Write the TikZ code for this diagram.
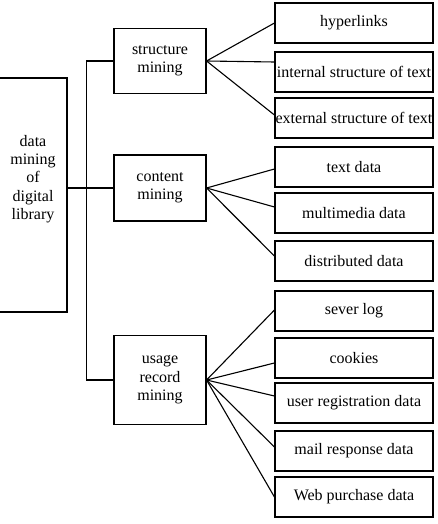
\documentclass[tikz,border=0pt]{standalone}
\usepackage{fontspec}
\setmainfont{Liberation Serif}
\usepackage{tikz}
\begin{document}
\begin{tikzpicture}[x=1pt,y=-1pt,line width=1.1pt,
  every node/.style={font=\fontsize{16}{18.4}\selectfont,align=center,inner sep=0pt},
  midbox/.style={draw,minimum width=92pt},
  leafbox/.style={draw,minimum width=158pt,minimum height=40pt}]
\useasboundingbox (0,0) rectangle (438,524);
\node[draw,minimum width=69pt,minimum height=234pt](lib)at(32.5,195){};
\node(libtext)at(33,179){data\\mining\\of\\digital\\library};
\node[midbox,minimum height=65pt](struct)at(160,61){structure\\mining};
\node[midbox,minimum height=66pt](content)at(160,188){content\\mining};
\node[midbox,minimum height=89pt](usage)at(160,380){usage\\record\\mining};
\node[leafbox](hyper)at(354,23){hyperlinks};
\node[leafbox](internal)at(354,72){internal structure of text};
\node[leafbox](external)at(354,118){external structure of text};
\node[leafbox](textdata)at(354,167){text data};
\node[leafbox](multi)at(354,213){multimedia data};
\node[leafbox](distrib)at(354,261){distributed data};
\node[leafbox](sever)at(354,311){sever log};
\node[leafbox](cookies)at(354,358){cookies};
\node[leafbox](userreg)at(354,403){user registration data};
\node[leafbox](mail)at(354,451){mail response data};
\node[leafbox](web)at(354,497){Web purchase data};
\draw (struct.west) -| ([xshift=-27pt]usage.west) -- (usage.west);
\draw (lib.east |- content.west) -- (content.west);
\draw (struct.east) -- (hyper.west);
\draw (struct.east) -- ([yshift=10pt]internal.west);
\draw (struct.east) -- ([yshift=3pt]external.west);
\draw (content.east) -- ([yshift=-2pt]textdata.west);
\draw (content.east) -- ([yshift=6pt]multi.west);
\draw (content.east) -- ([yshift=5pt]distrib.west);
\draw (usage.east) -- ([yshift=1pt]sever.west);
\draw (usage.east) -- ([yshift=-5pt]cookies.west);
\draw (usage.east) -- ([yshift=7pt]userreg.west);
\draw (usage.east) -- ([yshift=4pt]mail.west);
\draw (usage.east) -- (web.west);
\end{tikzpicture}
\end{document}
